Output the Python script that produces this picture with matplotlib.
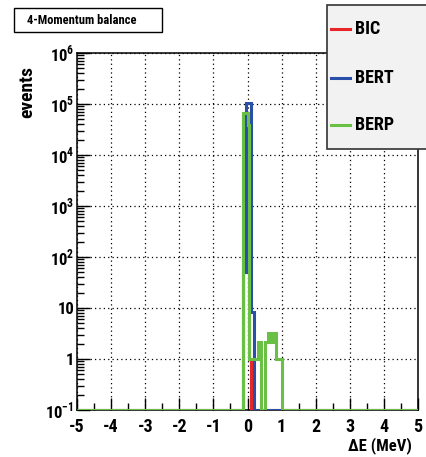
import numpy as np
import matplotlib
matplotlib.use('Agg')
import matplotlib.pyplot as plt
from matplotlib import font_manager
from matplotlib.patches import Rectangle
from matplotlib.lines import Line2D
from matplotlib.ticker import FixedLocator, FixedFormatter, LogLocator, NullFormatter

# pick a narrow bold sans if one is around
installed = {f.name for f in font_manager.fontManager.ttflist}
narrow = [n for n in ['Liberation Sans Narrow', 'Roboto Condensed', 'DejaVu Sans Condensed',
                      'Open Sans Condensed'] if n in installed]
main_font = narrow[0] if narrow else 'Liberation Sans'
plt.rcParams['font.family'] = [main_font, 'DejaVu Sans']
plt.rcParams['font.weight'] = 'bold'
plt.rcParams['mathtext.fontset'] = 'custom'
plt.rcParams['mathtext.rm'] = main_font + ':bold'
plt.rcParams['mathtext.bf'] = main_font + ':bold'
shrink = 1.0 if narrow else 0.82

# histogram contents (bin edges / counts), zero bins sit on the axis floor
bic_edges = [-5, -0.12, 0.0, 0.05, 0.1, 5]
bic_counts = [0, 6.0e4, 4.2e4, 1.0, 0]

bert_edges = [-5, -0.12, -0.03, 0.1, 0.2, 5]
bert_counts = [0, 50, 1.07e5, 8.5, 0]

berp_edges = [-5, -0.12, 0.0, 0.05, 0.3, 0.4, 0.5, 0.6, 0.7, 0.75, 0.85, 1.0, 5]
berp_counts = [0, 6.6e4, 3.9e4, 1.0, 2.2, 0, 2.2, 3.3, 2.2, 3.3, 1.0, 0]

labels = ['BIC', 'BERT', 'BERP']
colors = ['#e8262a', '#2a4fa8', '#6abf45']

x_ticks = [-5, -4, -3, -2, -1, 0, 1, 2, 3, 4, 5]
y_ticks = [1e-1, 1, 10, 1e2, 1e3, 1e4, 1e5, 1e6]
y_labels = [r'$10^{-1}$', '1', '10', r'$10^{2}$', r'$10^{3}$',
            r'$10^{4}$', r'$10^{5}$', r'$10^{6}$']

W, H = 426, 457


def fx(x):
    return x / W


def fy(y):
    return 1 - y / H


fig = plt.figure(figsize=(W / 100, H / 100), dpi=100)
ax = fig.add_axes([fx(77), fy(410), fx(418 - 77), (410 - 53) / H])

ymin = 0.1
for edges, counts, c in zip([bic_edges, bert_edges, berp_edges],
                            [bic_counts, bert_counts, berp_counts], colors):
    vals = np.maximum(np.array(counts, dtype=float), ymin)
    ax.stairs(vals, edges, baseline=None, color=c, lw=2.2, zorder=3)

ax.set_yscale('log')
ax.set_xlim(-5, 5)
ax.set_ylim(ymin, 1e6)

ax.xaxis.set_major_locator(FixedLocator(x_ticks))
ax.xaxis.set_minor_locator(FixedLocator(np.arange(-4.5, 5, 1.0)))
ax.set_xticklabels([str(t) for t in x_ticks])
ax.yaxis.set_major_locator(FixedLocator(y_ticks))
ax.yaxis.set_major_formatter(FixedFormatter(y_labels))
ax.yaxis.set_minor_locator(LogLocator(base=10, subs=np.arange(2, 10)))
ax.yaxis.set_minor_formatter(NullFormatter())

ax.tick_params(which='both', direction='in', top=False, right=False, width=1, colors='black')
ax.tick_params(which='major', length=9)
ax.tick_params(axis='x', labelsize=13 * shrink, pad=6)
ax.tick_params(axis='y', labelsize=12 * shrink, pad=2)
ax.tick_params(which='minor', length=5)

ax.grid(True, which='major', color='black', linestyle=(0, (1, 2.5)), lw=0.9)
for s in ax.spines.values():
    s.set_linewidth(1.1)

fig.text(fx(27), fy(92), 'events', rotation=90, ha='center', va='center', fontsize=14 * shrink)
fig.text(fx(412), fy(446), '\u0394E (MeV)', ha='right', va='center', fontsize=12 * shrink)

# title box
fig.patches.append(Rectangle((fx(15), fy(33)), fx(148), (33 - 9) / H, transform=fig.transFigure,
                             facecolor='#555555', edgecolor='none', zorder=1))
fig.patches.append(Rectangle((fx(14), fy(32)), fx(148), (32 - 8) / H, transform=fig.transFigure,
                             facecolor='white', edgecolor='black', lw=1, zorder=2))
fig.text(fx(82), fy(20), '4-Momentum balance', ha='center', va='center', fontsize=9 * shrink, zorder=3)

# legend box
fig.patches.append(Rectangle((fx(327), fy(149)), fx(110), (149 - 5) / H, transform=fig.transFigure,
                             facecolor='#f2f2f2', edgecolor='#333333', lw=1.2, zorder=4))
for lab, c, yy in zip(labels, colors, [29, 78, 125]):
    fig.lines.append(Line2D([fx(331), fx(350)], [fy(yy), fy(yy)], transform=fig.transFigure,
                            color=c, lw=2.2, zorder=5))
    fig.text(fx(355), fy(yy), lab, ha='left', va='center', fontsize=13 * shrink, zorder=6)

fig.savefig('out.png', dpi=100)
